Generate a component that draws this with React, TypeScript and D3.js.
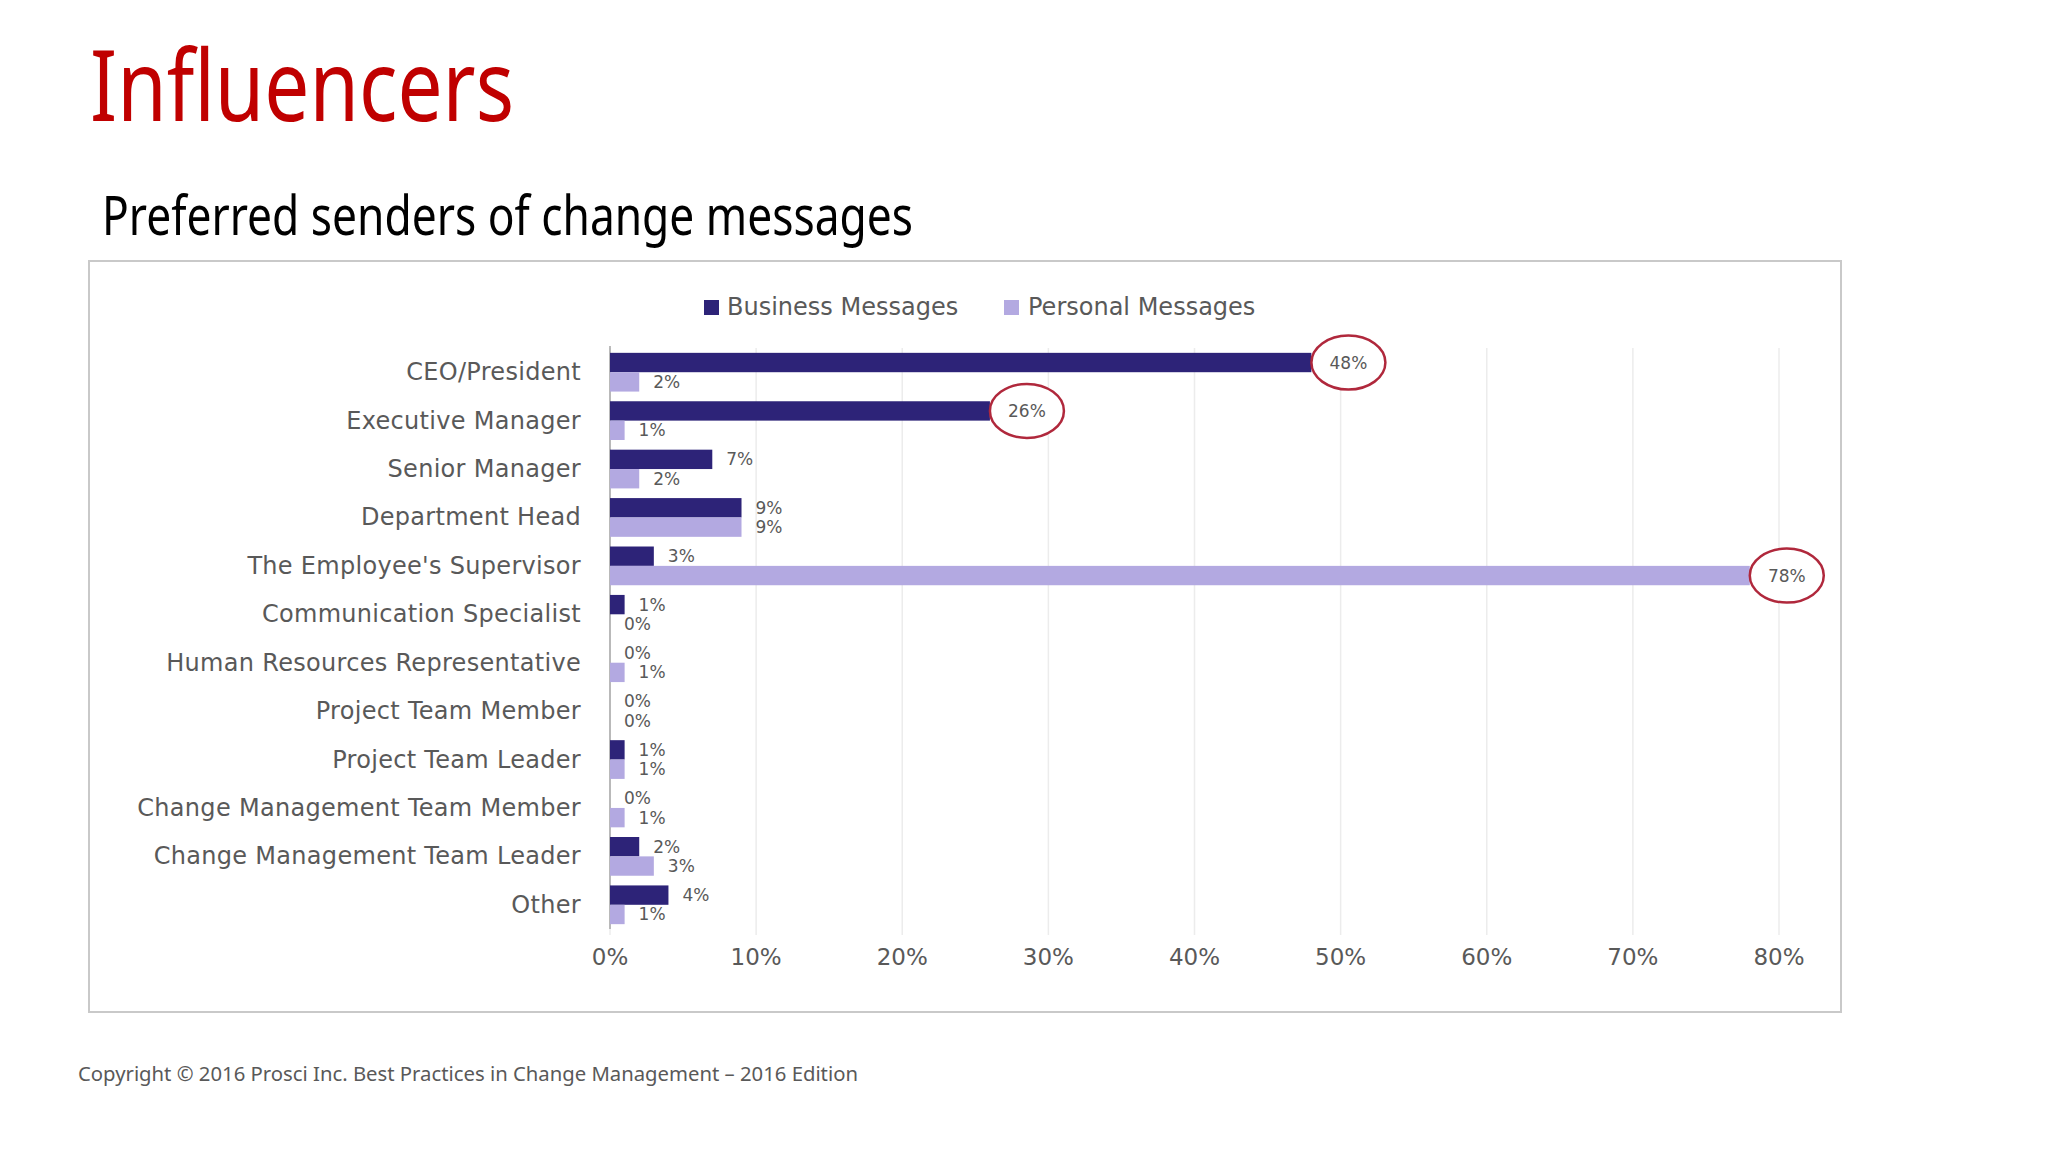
import { scaleBand, scaleLinear } from "d3";

const categories = [
  "CEO/President",
  "Executive Manager",
  "Senior Manager",
  "Department Head",
  "The Employee's Supervisor",
  "Communication Specialist",
  "Human Resources Representative",
  "Project Team Member",
  "Project Team Leader",
  "Change Management Team Member",
  "Change Management Team Leader",
  "Other",
];
const business = [48, 26, 7, 9, 3, 1, 0, 0, 1, 0, 2, 4];
const personal = [2, 1, 2, 9, 78, 0, 1, 0, 1, 1, 3, 1];
const seriesNames = ["Business Messages", "Personal Messages"];
const xTicks = [0, 10, 20, 30, 40, 50, 60, 70, 80];
// labels drawn inside a red ring on the original slide
const circled = [
  { series: 0, index: 0 },
  { series: 0, index: 1 },
  { series: 1, index: 4 },
];

const DARK = "#2d2378";
const LIGHT = "#b3a9e1";
const GREY = "#595959";
const font = "'DejaVu Sans', Verdana, sans-serif";

export default function App() {
  const x = scaleLinear().domain([0, 80]).range([610, 1779]);
  const y = scaleBand<string>()
    .domain(categories)
    .range([348, 929])
    .paddingInner(0.2)
    .paddingOuter(0.1);
  const sub = scaleBand<number>()
    .domain([0, 1])
    .range([0, y.bandwidth()]);
  const series = [business, personal];
  const colors = [DARK, LIGHT];

  const isCircled = (s: number, i: number) =>
    circled.some((c) => c.series === s && c.index === i);

  return (
    <svg
      width={2048}
      height={1152}
      style={{ position: "absolute", left: 0, top: 0, background: "#fff" }}
    >
      <text
        x={90}
        y={121}
        fill="#c00000"
        fontFamily="'Noto Sans', 'Open Sans', sans-serif"
        fontSize={98}
        textLength={424}
        lengthAdjust="spacingAndGlyphs"
      >
        Influencers
      </text>
      <text
        x={102}
        y={235}
        fill="#000"
        fontFamily="'Noto Sans', 'Open Sans', sans-serif"
        fontSize={54}
        textLength={811}
        lengthAdjust="spacingAndGlyphs"
      >
        Preferred senders of change messages
      </text>

      <rect x={89} y={261} width={1752} height={751} fill="#fff" stroke="#c9c9c9" strokeWidth={2} />

      {/* legend */}
      <g fontFamily={font} fontSize={24} fill={GREY}>
        <rect x={704} y={300} width={15} height={15} fill={DARK} />
        <text x={727} y={307} dominantBaseline="central">
          {seriesNames[0]}
        </text>
        <rect x={1004} y={300} width={15} height={15} fill={LIGHT} />
        <text x={1028} y={307} dominantBaseline="central">
          {seriesNames[1]}
        </text>
      </g>

      {/* grid */}
      {xTicks.map((t) => (
        <line
          key={t}
          x1={x(t)}
          x2={x(t)}
          y1={348}
          y2={935}
          stroke="#ececec"
          strokeWidth={1.5}
        />
      ))}
      <line x1={x(0)} x2={x(0)} y1={346} y2={929} stroke="#a6a6a6" strokeWidth={1.5} />

      {/* x axis labels */}
      <g fontFamily={font} fontSize={23} fill={GREY} textAnchor="middle">
        {xTicks.map((t) => (
          <text key={t} x={x(t)} y={957} dominantBaseline="central">
            {t}%
          </text>
        ))}
      </g>

      {/* category labels */}
      <g fontFamily={font} fontSize={24} fill={GREY} textAnchor="end">
        {categories.map((c) => (
          <text
            key={c}
            x={581}
            y={(y(c) ?? 0) + y.bandwidth() / 2}
            dominantBaseline="central"
            letterSpacing={0.3}
          >
            {c}
          </text>
        ))}
      </g>

      {/* bars */}
      {series.map((vals, s) =>
        vals.map((v, i) => (
          <rect
            key={`${s}-${i}`}
            x={x(0)}
            y={(y(categories[i]) ?? 0) + (sub(s) ?? 0)}
            width={x(v) - x(0)}
            height={sub.bandwidth()}
            fill={colors[s]}
          />
        ))
      )}

      {/* value labels */}
      <g fontFamily={font} fontSize={17} fill={GREY}>
        {series.map((vals, s) =>
          vals.map((v, i) => {
            const cy = (y(categories[i]) ?? 0) + (sub(s) ?? 0) + sub.bandwidth() / 2;
            if (isCircled(s, i)) {
              const rx = 37;
              const cx = x(v) + rx;
              return (
                <g key={`${s}-${i}`}>
                  <ellipse
                    cx={cx}
                    cy={cy}
                    rx={rx}
                    ry={27}
                    fill="#fff"
                    stroke="#b0283c"
                    strokeWidth={2.5}
                  />
                  <text x={cx} y={cy} textAnchor="middle" dominantBaseline="central">
                    {v}%
                  </text>
                </g>
              );
            }
            return (
              <text
                key={`${s}-${i}`}
                x={x(v) + 14}
                y={cy}
                dominantBaseline="central"
              >
                {v}%
              </text>
            );
          })
        )}
      </g>

      <text
        x={78}
        y={1073}
        fill={GREY}
        fontFamily="'Noto Sans', 'Open Sans', sans-serif"
        fontSize={20}
        dominantBaseline="central"
        textLength={780}
        lengthAdjust="spacingAndGlyphs"
      >
        Copyright © 2016 Prosci Inc. Best Practices in Change Management – 2016 Edition
      </text>
    </svg>
  );
}
